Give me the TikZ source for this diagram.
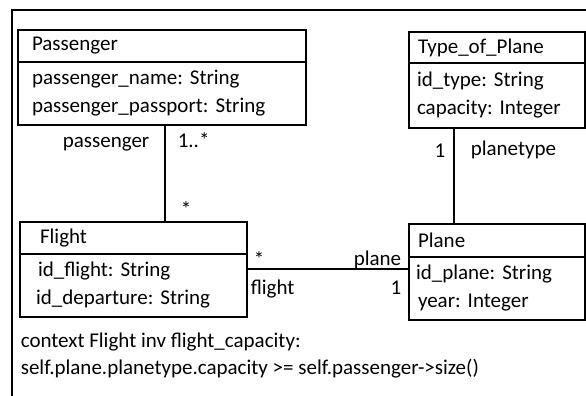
\documentclass[tikz,border=0pt]{standalone}
\usepackage{fontspec}
\setmainfont{Carlito}
\usepackage{tikz}
\usetikzlibrary{positioning}
\frenchspacing

\begin{document}
\begin{tikzpicture}[x=1pt, y=-1pt, line width=1.6pt, font=\fontsize{21}{28}\selectfont\frenchspacing]
        % Define styles for the class boxes and labels
        \tikzstyle{classhead} = [rectangle, draw, anchor=north west, outer sep=0pt, align=left, minimum height=32pt, inner ysep=0pt]
        \tikzstyle{classbody} = [rectangle, draw, below=0pt, outer sep=0pt, align=left, minimum height=63pt, inner ysep=0pt]
        \tikzstyle{role} = [inner sep=0pt]

        \useasboundingbox (0,0) rectangle (586,396);

        % Frame
        \draw (586,10) -- (12,10) -- (12,396);

        % Nodes
        \node (passengerhead) [classhead, text width=260pt, inner xsep=14pt] at (18,30) {Passenger};
        \node (passengerbody) [classbody, text width=260pt, inner xsep=14pt, below=0pt of passengerhead] {passenger\_name: String\\passenger\_passport: String};

        \node (typehead) [classhead, text width=158pt, inner xsep=9pt, minimum height=31pt] at (409,32) {Type\_of\_Plane};
        \node (typebody) [classbody, text width=160pt, inner xsep=8pt, minimum height=65pt, below=0pt of typehead] {id\_type: String\\capacity: Integer};

        \node (flighthead) [classhead, text width=187pt, inner xsep=20pt] at (20,222) {Flight};
        \node (flightbody) [classbody, text width=195pt, inner xsep=16pt, below=0pt of flighthead] {\hspace*{2pt}id\_flight: String\\id\_departure: String};

        \node (planehead) [classhead, text width=158pt, inner xsep=9pt, minimum height=33pt] at (409,224) {Plane};
        \node (planebody) [classbody, text width=162pt, inner xsep=7pt, below=0pt of planehead] {id\_plane: String\\\hspace*{2pt}year: Integer};

        % Edges
        \draw ([xshift=147pt]passengerbody.south west) -- ([xshift=145pt]flighthead.north west);
        \draw ([yshift=16.5pt]flightbody.east) coordinate (fp) -- (fp -| planebody.west);
        \draw ([xshift=45pt]typebody.south west) coordinate (tp) -- (tp |- planehead.north);

        % Role names and multiplicities
        \node (rpassenger) [role, anchor=base west] at (62,147) {passenger};
        \node (mpassenger) [role, anchor=base west] at (177,147) {1..*};
        \node (mflightp) [role, anchor=base west] at (180,216) {*};
        \node (mflight) [role, anchor=base west] at (253,266) {*};
        \node (rflight) [role, anchor=base west] at (250,294) {flight};
        \node (rplane) [role, anchor=base east] at (402,265) {plane};
        \node (mplane) [role, anchor=base east] at (402,294) {1};
        \node (mtype) [role, anchor=base east] at (446,157) {1};
        \node (rtype) [role, anchor=base west] at (470,155) {planetype};

        % Constraint
        \node (ocl1) [role, anchor=base west] at (20,347) {context Flight inv flight\_capacity:};
        \node (ocl2) [role, anchor=base west] at (20,374) {self.plane.planetype.capacity >= self.passenger->size()};
    \end{tikzpicture}
\end{document}
